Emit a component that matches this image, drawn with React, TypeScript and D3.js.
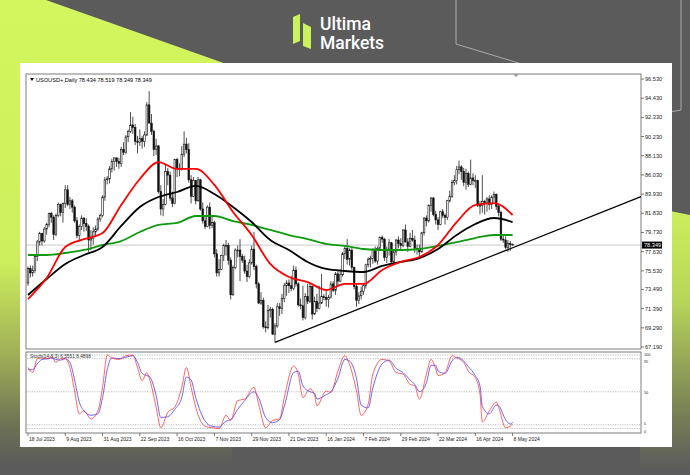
import React, { useEffect } from 'react';
import * as d3 from 'd3';

const dateTicks = ['18 Jul 2023','9 Aug 2023','31 Aug 2023','22 Sep 2023','16 Oct 2023','7 Nov 2023','29 Nov 2023','21 Dec 2023','16 Jan 2024','7 Feb 2024','29 Feb 2024','22 Mar 2024','16 Apr 2024','8 May 2024'];
const dateTickBars = [0,16,32,48,64,80,96,112,128,144,160,176,192,208];
const priceTicks = [96.53,94.43,92.33,90.23,88.13,86.03,83.93,81.83,79.73,77.63,75.53,73.49,71.39,69.29,67.19];

const opens = [
74.2,75.8,75.3,75.6,77.1,78.7,79.6,78.8,80.1,80.6,
81.8,81.4,79.5,81.6,82.8,81.9,82.9,84.4,82.8,83.2,
82.5,81.0,79.4,80.4,81.3,80.7,80.4,78.9,79.1,79.8,
80.1,81.2,81.6,83.6,85.5,85.6,86.7,87.5,87.9,87.5,
87.3,88.8,88.5,90.2,90.8,91.5,91.2,89.7,89.6,90.0,
89.7,90.4,93.7,91.7,90.8,88.8,89.2,84.2,82.3,82.8,
86.4,86.0,83.5,82.9,87.7,86.7,86.7,88.3,89.4,88.8,
85.5,83.7,85.4,83.2,85.5,82.3,81.0,80.4,82.5,80.5,
80.8,77.4,75.3,75.7,77.2,78.3,78.3,76.7,72.9,75.9,
77.8,77.8,77.1,76.7,75.5,74.9,76.4,77.9,76.0,74.1,
72.0,72.3,69.4,69.3,71.2,71.3,68.6,69.5,71.6,71.4,
72.5,73.9,74.2,73.9,73.6,75.6,74.1,71.8,71.7,70.4,
72.7,72.2,73.8,70.8,72.2,71.4,72.0,72.7,72.6,72.4,
72.6,74.1,73.4,75.2,74.4,75.1,77.4,78.0,76.8,77.8,
75.9,73.8,72.3,72.8,73.3,73.9,76.2,76.8,76.9,77.9,
76.6,78.0,79.2,79.0,77.0,77.9,78.6,76.5,77.6,78.9,
78.5,78.3,80.0,78.7,78.2,79.1,78.9,78.0,77.9,77.6,
79.7,81.3,81.0,82.7,83.5,81.7,81.1,80.6,82.0,81.6,
81.4,83.2,83.7,85.2,85.4,86.6,86.9,86.4,85.2,86.2,
85.0,85.7,85.4,85.4,82.7,82.7,83.1,82.9,83.4,82.8,
83.6,83.9,82.6,81.9,79.0,78.9,78.1,78.5,78.434];

const highs = [
76.0,76.1,76.1,77.2,78.9,79.8,79.7,80.3,80.8,81.9,
82.0,81.6,81.8,83.0,82.9,83.0,84.9,84.9,83.6,83.4,
82.7,81.4,80.6,81.6,81.4,81.3,80.6,80.0,80.3,80.5,
81.4,81.8,83.8,85.8,85.9,87.0,87.8,87.9,87.9,87.9,
89.1,89.6,90.4,91.0,92.9,92.4,91.6,90.3,91.0,90.3,
90.8,94.0,95.2,92.7,91.0,90.0,89.3,84.9,83.4,87.2,
86.8,86.4,84.2,87.8,87.9,87.3,89.2,90.8,90.1,89.5,
86.0,85.8,85.5,85.8,85.6,83.0,81.6,82.7,83.0,81.5,
81.0,77.9,76.8,77.3,78.5,78.9,78.6,77.0,76.1,78.0,
78.3,79.0,77.4,77.2,76.2,76.8,78.3,79.8,76.2,74.3,
73.2,72.6,70.0,71.8,71.6,71.5,69.8,72.0,72.0,73.0,
74.2,74.5,74.6,75.0,76.1,76.0,74.3,72.5,73.9,73.1,
74.1,74.2,73.9,72.7,73.0,73.9,75.2,73.0,73.5,72.9,
74.4,74.4,75.4,75.5,75.7,77.6,78.3,79.0,78.0,78.0,
76.0,74.1,73.2,73.8,74.1,76.3,77.0,77.2,78.0,78.2,
78.2,79.3,79.4,79.1,78.2,79.0,78.7,77.8,79.0,79.3,
79.1,80.1,80.6,79.1,79.7,80.0,79.4,78.4,78.4,79.8,
81.4,81.6,82.8,83.6,83.6,82.1,81.4,82.1,82.3,81.8,
83.3,84.3,85.5,86.0,87.0,87.6,87.1,86.8,86.7,86.4,
87.7,86.2,86.0,85.5,83.2,86.0,83.3,83.6,83.8,83.8,
84.2,84.0,82.8,82.1,79.5,79.3,78.9,78.8,78.519];

const lows = [
73.9,74.8,74.9,75.3,76.6,78.3,78.3,78.6,79.5,80.3,
80.8,78.9,79.3,81.4,81.5,80.8,82.4,82.6,82.3,81.9,
80.8,79.1,78.7,80.0,79.8,79.9,77.6,77.8,78.4,79.4,
79.9,80.9,81.4,83.2,85.0,85.1,86.3,86.5,86.9,86.7,
86.9,88.2,88.3,89.6,90.6,90.5,89.3,88.4,89.2,88.9,
89.1,90.3,91.7,90.4,88.1,88.2,84.0,81.6,81.5,82.7,
84.9,83.2,82.5,82.8,85.8,85.9,86.5,88.0,88.4,85.2,
82.9,83.6,82.8,83.1,82.1,80.7,80.1,80.3,80.1,80.2,
77.0,74.9,74.9,75.6,76.6,77.2,76.2,72.4,72.8,75.7,
77.0,74.4,76.4,75.2,74.3,74.7,76.2,75.6,73.6,71.9,
71.8,69.2,68.8,69.1,70.4,68.5,67.7,69.3,70.6,70.8,
72.1,72.8,73.1,73.3,73.4,73.8,71.6,71.3,70.1,70.2,
71.9,72.0,70.2,70.7,71.0,71.3,71.9,72.3,71.6,71.5,
72.5,73.2,72.9,73.8,74.3,74.9,76.8,76.2,76.1,75.6,
73.5,71.6,71.9,72.4,72.9,73.6,75.9,75.9,76.3,76.4,
76.2,77.7,78.6,76.6,76.4,77.2,76.4,76.4,77.2,78.0,
77.9,78.1,78.6,77.6,78.1,78.7,77.5,77.3,76.9,77.5,
79.4,80.4,80.8,82.0,81.5,80.6,80.0,80.5,81.3,80.6,
81.1,83.0,83.5,84.9,85.0,86.1,85.5,84.8,84.4,84.7,
84.9,84.9,84.6,82.5,81.7,81.9,81.7,82.0,82.2,82.3,
83.0,82.2,81.5,78.8,78.6,77.9,77.6,77.7,78.349];

const closes = [
75.8,75.3,75.6,77.1,78.7,79.6,78.8,80.1,80.6,81.8,
81.4,79.5,81.6,82.8,81.9,82.9,84.4,82.8,83.2,82.5,
81.0,79.4,80.4,81.3,80.7,80.4,78.9,79.1,79.8,80.1,
81.2,81.6,83.6,85.5,85.6,86.7,87.5,87.9,87.5,87.3,
88.8,88.5,90.2,90.8,91.5,91.2,89.7,89.6,90.0,89.7,
90.4,93.7,91.7,90.8,88.8,89.2,84.2,82.3,82.8,86.4,
86.0,83.5,82.9,87.7,86.7,86.7,88.3,89.4,88.8,85.5,
83.7,85.4,83.2,85.5,82.3,81.0,80.4,82.5,80.5,80.8,
77.4,75.3,75.7,77.2,78.3,78.3,76.7,72.9,75.9,77.8,
77.8,77.1,76.7,75.5,74.9,76.4,77.9,76.0,74.1,72.0,
72.3,69.4,69.3,71.2,71.3,68.6,69.5,71.6,71.4,72.5,
73.9,74.2,73.9,73.6,75.6,74.1,71.8,71.7,70.4,72.7,
72.2,73.8,70.8,72.2,71.4,72.0,72.7,72.6,72.4,72.6,
74.1,73.4,75.2,74.4,75.1,77.4,78.0,76.8,77.8,75.9,
73.8,72.3,72.8,73.3,73.9,76.2,76.8,76.9,77.9,76.6,
78.0,79.2,79.0,77.0,77.9,78.6,76.5,77.6,78.9,78.5,
78.3,80.0,78.7,78.2,79.1,78.9,78.0,77.9,77.6,79.7,
81.3,81.0,82.7,83.5,81.7,81.1,80.6,82.0,81.6,81.4,
83.2,83.7,85.2,85.4,86.6,86.9,86.4,85.2,86.2,85.0,
85.7,85.4,85.4,82.7,82.7,83.1,82.9,83.4,82.8,83.6,
83.9,82.6,81.9,79.0,78.9,78.1,78.5,78.4,78.349];

const maIdx = [0,8,16,24,32,40,48,56,64,72,80,88,96,104,112,120,128,136,144,152,160,168,176,184,192,200,208];
const maRed = [72.44,74.74,78.14,78.99,79.67,82.74,85.58,87.44,86.68,86.68,84.93,81.97,79.45,76.28,74.85,74.30,73.43,74.09,74.09,75.62,76.50,77.04,78.36,80.87,82.74,82.95,81.64];
const maBlack = [72.88,74.63,76.28,77.26,78.14,80.44,82.52,83.61,84.16,84.82,83.94,82.52,80.87,78.90,77.81,76.50,75.73,75.51,75.40,76.06,76.50,76.93,77.92,79.45,80.65,81.31,80.87];
const maGreen = [77.26,77.26,77.48,77.81,78.36,78.79,79.78,80.55,80.77,81.53,81.53,80.98,80.55,80.00,79.45,79.01,78.47,78.25,77.92,77.81,77.81,77.92,78.25,78.68,79.12,79.45,79.45];

const stochIdx = [0,2,4,6,9,10,12,14,16,18,20,22,24,27,30,32,34,36,39,42,45,47,49,51,52,55,57,60,63,66,68,70,72,76,79,82,85,87,90,93,97,99,102,105,108,110,114,116,118,121,123,124,128,130,133,136,138,141,143,146,148,152,155,158,161,164,166,168,171,173,175,176,179,182,184,187,189,192,194,195,198,201,202,205,207,208];
const stochK = [83,76,95,96,95,99,90,95,95,83,51,20,24,13,24,56,100,96,94,99,100,83,65,76,69,29,1,22,29,56,83,56,29,3,1,0,18,11,38,40,56,33,1,11,13,42,85,74,42,54,45,31,51,49,78,99,87,51,18,33,74,94,92,76,74,60,58,40,74,94,81,72,76,99,96,90,78,69,47,9,24,36,29,1,3,6.56];
const stochD = [80,80,88,94,95,96,94,93,95,90,66,36,24,18,20,42,80,96,95,97,99,90,75,72,71,45,15,16,26,42,70,66,42,10,3,2,10,12,26,38,50,42,15,8,12,30,76,78,58,50,48,40,46,50,68,94,92,68,32,28,55,88,93,82,76,66,60,50,62,86,86,78,75,92,97,92,84,72,58,30,20,32,31,12,6,8.49];
const stochLevels = [100,95,50,5,0];
const stochLabelShift = [0.5,4.5,2,-0.2,4];

const trendBars = [106,208];
const trendPrices = [67.7,78.06];

const headerText = 'USOUSD+,Daily  78.434 78.519 78.349 78.349';
const stochText = 'Stoch(14,3,3) 6.5551 8.4898';
const lastPrice = 78.349;

const FONT = 'Liberation Sans, Arial, sans-serif';

export default function App() {
  useEffect(() => { document.body.style.margin = '0'; }, []);

  const L = 26, R = 641, T = 74, B = 349, ST = 352, SB = 433;
  const x = d3.scaleLinear().domain([0, 208]).range([28, 512.6]);
  const y = d3.scaleLinear().domain([67.19, 96.53]).range([347, 79]);
  const ys = d3.scaleLinear().domain([0, 100]).range([428.5, 355]);

  const maLine = d3.line<number>().x((d, i) => x(maIdx[i])).y(d => y(d)).curve(d3.curveMonotoneX);
  const stLine = d3.line<number>().x((d, i) => x(stochIdx[i])).y(d => ys(Math.max(0, d))).curve(d3.curveMonotoneX);

  const slope = (trendPrices[1] - trendPrices[0]) / (trendBars[1] - trendBars[0]);
  const rightBar = x.invert(R);
  const trendEnd = trendPrices[0] + slope * (rightBar - trendBars[0]);

  const bw = 1.6;

  return (
    <svg width={690} height={475} style={{ position: 'absolute', left: 0, top: 0, display: 'block' }}>
      <defs>
        <linearGradient id="lg" x1="0" y1="0" x2="0" y2="1">
          <stop offset="0" stopColor="#d3f65e" />
          <stop offset="0.55" stopColor="#cdef5c" />
          <stop offset="0.75" stopColor="#9fae57" />
          <stop offset="0.9" stopColor="#6c7055" />
          <stop offset="0.98" stopColor="#5b5b5b" />
        </linearGradient>
        <linearGradient id="rg" x1="0" y1="0" x2="0" y2="1">
          <stop offset="0" stopColor="#cdf05c" />
          <stop offset="0.35" stopColor="#b8d65a" />
          <stop offset="0.75" stopColor="#7b8455" />
          <stop offset="0.98" stopColor="#5b5b5b" />
        </linearGradient>
      </defs>
      <rect x={0} y={0} width={690} height={475} fill="#5b5b5b" />
      <polygon points="0,0 46,0 232,66 232,475 0,475" fill="url(#lg)" />
      <polygon points="640,205 690,215 690,475 640,475" fill="url(#rg)" />
      <polyline points="456,0 456,44 548,72" fill="none" stroke="#aaaaaa" strokeWidth={1} />
      <polyline points="681,0 681,110 670,112" fill="none" stroke="#aaaaaa" strokeWidth={1} />

      {/* logo */}
      <polygon points="293,17 300,14 300,41 293,44" fill="#c9f25c" />
      <polygon points="303,23 311,27 311,49 303,46" fill="#c9f25c" />
      <text x={320} y={30} fontFamily="Roboto, sans-serif" fontSize={17.5} fontWeight={500} fill="#ffffff">Ultima</text>
      <text x={320} y={49} fontFamily="Roboto, sans-serif" fontSize={17.5} fontWeight={500} fill="#ffffff">Markets</text>

      {/* panel */}
      <rect x={20} y={63} width={652} height={384} fill="#ffffff" />

      {/* frames */}
      <rect x={L} y={T} width={R - L} height={B - T} fill="none" stroke="#7d7d7d" strokeWidth={1} />
      <rect x={L} y={ST} width={R - L} height={SB - ST} fill="none" stroke="#7d7d7d" strokeWidth={1} />

      {/* bid line */}
      <line x1={L} x2={R} y1={y(lastPrice)} y2={y(lastPrice)} stroke="#c8c8c8" strokeWidth={1} />

      {/* candles */}
      {closes.map((c, i) => {
        const o = opens[i];
        const bull = c >= o;
        const top = y(Math.max(o, c));
        const h = Math.max(0.8, y(Math.min(o, c)) - top);
        const cx = x(i);
        return (
          <g key={i}>
            <line x1={cx} x2={cx} y1={y(highs[i])} y2={y(lows[i])} stroke="#222" strokeWidth={0.8} />
            <rect x={cx - bw / 2} y={top} width={bw} height={h}
              fill={bull ? '#ffffff' : '#111111'} stroke="#111111" strokeWidth={0.6} />
          </g>
        );
      })}

      {/* moving averages */}
      <path d={maLine(maGreen) || ''} fill="none" stroke="#0f9a10" strokeWidth={1.8} />
      <path d={maLine(maBlack) || ''} fill="none" stroke="#000000" strokeWidth={1.8} />
      <path d={maLine(maRed) || ''} fill="none" stroke="#ff0000" strokeWidth={1.8} />

      {/* trend line */}
      <line x1={x(trendBars[0])} y1={y(trendPrices[0])} x2={R} y2={y(trendEnd)} stroke="#000" strokeWidth={1.2} />

      {/* shift marker */}
      <polygon points={`513,${T} 519,${T} 516,${T + 3}`} fill="#9a9a9a" />

      {/* header */}
      <polygon points={`30,${T + 4} 34,${T + 4} 32,${T + 7}`} fill="#000" />
      <text x={36} y={T + 8} fontFamily={FONT} fontSize={5.6} fill="#000">{headerText}</text>

      {/* price axis */}
      {priceTicks.map((p, i) => (
        <g key={i}>
          <line x1={R} x2={R + 3} y1={y(p)} y2={y(p)} stroke="#555" strokeWidth={0.8} />
          <text x={R + 4} y={y(p) + 2} fontFamily={FONT} fontSize={5.6} fill="#222">{p.toFixed(3)}</text>
        </g>
      ))}
      <rect x={R + 1} y={y(lastPrice) - 3.5} width={20} height={7} fill="#000" />
      <text x={R + 3} y={y(lastPrice) + 2} fontFamily={FONT} fontSize={5.6} fill="#fff">{lastPrice.toFixed(3)}</text>

      {/* stochastic levels */}
      {stochLevels.map((lv, i) => (
        <g key={i}>
          <line x1={L + 1} x2={R - 1} y1={ys(lv)} y2={ys(lv)} stroke="#b0b0b0" strokeWidth={0.8} strokeDasharray="1.2,1.2" />
          <text x={R + 3} y={ys(lv) + stochLabelShift[i]} fontFamily={FONT} fontSize={3.8} fill="#222">{String(lv)}</text>
        </g>
      ))}
      <path d={stLine(stochD) || ''} fill="none" stroke="#5656ff" strokeWidth={1} opacity={0.9} />
      <path d={stLine(stochK) || ''} fill="none" stroke="#ff3030" strokeWidth={1} opacity={0.75} />
      <text x={30} y={ST + 6} fontFamily={FONT} fontSize={4.8} fill="#333">{stochText}</text>

      {/* date axis */}
      {dateTickBars.map((b, i) => (
        <g key={i}>
          <line x1={x(b)} x2={x(b)} y1={SB} y2={SB + 3} stroke="#555" strokeWidth={0.8} />
          <text x={x(b) + 1} y={SB + 7.5} fontFamily={FONT} fontSize={5} fill="#222">{dateTicks[i]}</text>
        </g>
      ))}
    </svg>
  );
}
